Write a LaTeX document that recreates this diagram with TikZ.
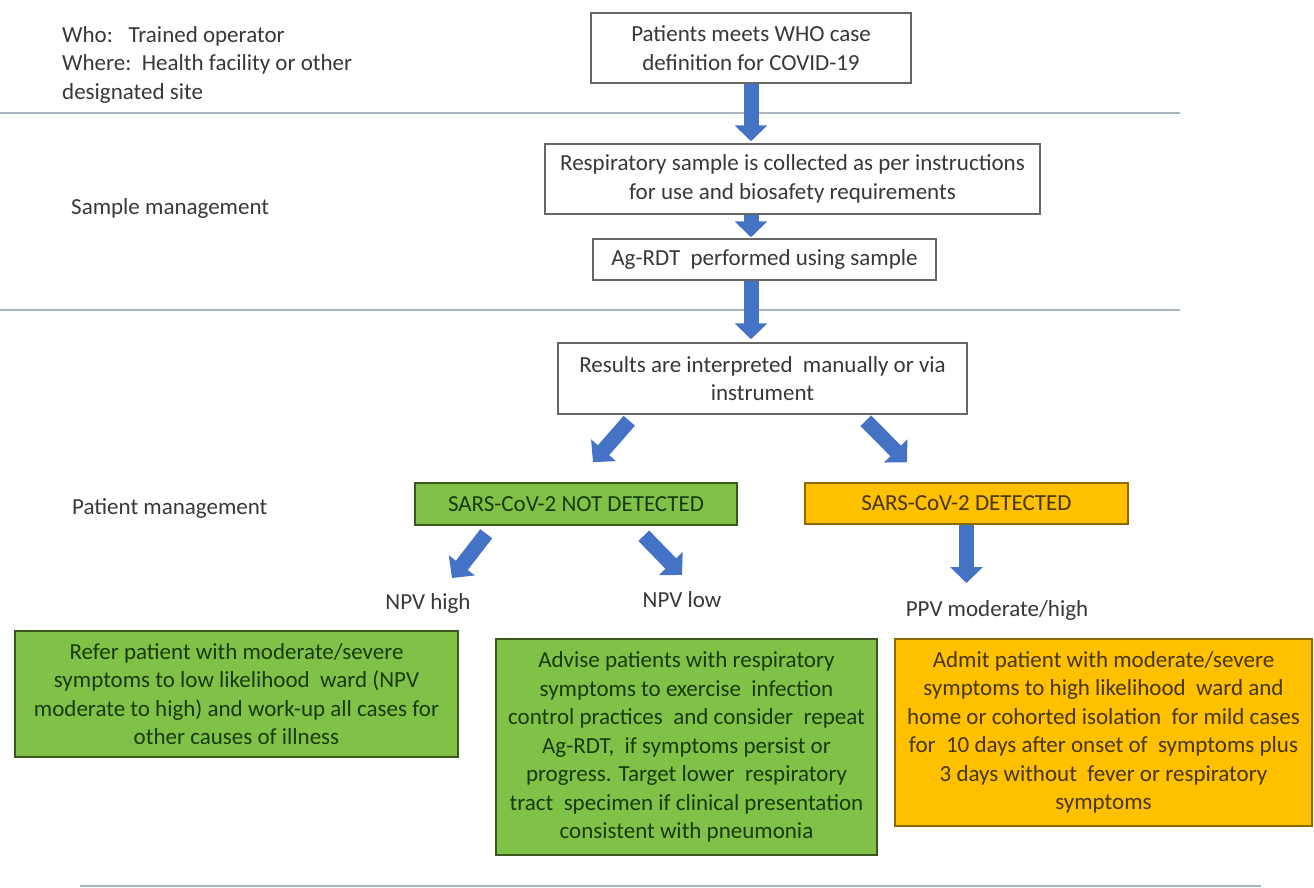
\documentclass[tikz,border=0pt]{standalone}
\usepackage{fontspec}
\setmainfont{Carlito}
\usetikzlibrary{calc, arrows.meta}

\definecolor{arrowblue}{RGB}{68,114,196}
\definecolor{boxgreen}{RGB}{128,194,72}
\definecolor{boxorange}{RGB}{255,192,0}
\definecolor{rulegray}{RGB}{170,180,192}
\definecolor{textgray}{RGB}{56,56,56}
\definecolor{greentext}{RGB}{24,58,12}
\definecolor{orangetext}{RGB}{70,54,10}

\tikzset{
    plainbox/.style={draw=black!60, line width=1.5pt, fill=white, text=textgray, align=center, inner sep=0pt},
    greenbox/.style={draw=black!55!boxgreen, line width=1.5pt, fill=boxgreen, text=greentext, align=center, inner sep=0pt},
    orangebox/.style={draw=black!45!boxorange, line width=1.5pt, fill=boxorange, text=orangetext, align=center, inner sep=0pt},
    sidetext/.style={anchor=west, align=left, text=textgray, inner sep=0pt},
    branchtext/.style={text=textgray, inner sep=0pt},
    blockarrow/.style={arrowblue, line width=15pt, -{Triangle[width=32pt,length=16pt]}},
    separator/.style={rulegray, line width=2pt}
}

\begin{document}
\begin{tikzpicture}[x=1pt, y=-1pt, font=\fontsize{23}{28.5}\selectfont]
        \useasboundingbox (0,0) rectangle (1314,887);

        % separators between the three stages
        \draw[separator] (0,113) -- (1180,113);
        \draw[separator] (0,310) -- (1180,310);
        \draw[separator] (80,886) -- (1261,886);

        % side headings
        \node (Who_Where) at (62,64.5) [sidetext] {Who:\ \ \ Trained operator\\Where:\ \ Health facility or other\\designated site};
        \node (Sample_Mgmt) at (71,208) [sidetext] {Sample management};
        \node (Patient_Mgmt) at (72,509) [sidetext] {Patient management};

        % define main column
        \coordinate (Case_Def) at (751,48);
        \coordinate (Sample) at (792.5,179);
        \coordinate (Ag_RDT) at (764.5,259.5);
        \coordinate (Results) at (762.5,378.5);

        % draw main column
        \node (Box_Case) at (Case_Def) [plainbox, minimum width=320pt, minimum height=70pt]
            {Patients meets WHO case\\definition for COVID-19};
        \node (Box_Sample) at (Sample) [plainbox, minimum width=495pt, minimum height=70pt]
            {Respiratory sample is collected as per instructions\\for use and biosafety requirements};
        \node (Box_Test) at (Ag_RDT) [plainbox, minimum width=343pt, minimum height=41pt]
            {Ag-RDT\ \ performed using sample};
        \node (Box_Results) at (Results) [plainbox, minimum width=409pt, minimum height=71pt]
            {Results are interpreted\ \ manually or via\\instrument};

        % results
        \node (Not_Detected) at (576,504) [greenbox, minimum width=322pt, minimum height=42pt]
            {SARS-CoV-2 NOT DETECTED};
        \node (Detected) at (966.5,503.5) [orangebox, minimum width=323pt, minimum height=41pt]
            {SARS-CoV-2 DETECTED};

        \node (NPV_High) at (428,603) [branchtext] {NPV high};
        \node (NPV_Low) at (682,600) [branchtext] {NPV low};
        \node (PPV_High) at (997,610) [branchtext] {PPV moderate/high};

        % actions
        \node (Act_High) at (236.5,694) [greenbox, minimum width=443pt, minimum height=126pt]
            {Refer patient with moderate/severe\\symptoms to low likelihood\ \ ward (NPV\\moderate to high) and work-up all cases for\\other causes of illness};
        \node (Act_Low) at (686.5,747) [greenbox, minimum width=381pt, minimum height=216pt]
            {Advise patients with respiratory\\symptoms to exercise\ \ infection\\control practices\ \ and consider\ \ repeat\\Ag-RDT,\ \ if symptoms persist or\\progress. Target lower\ \ respiratory\\tract\ \ specimen if clinical presentation\\consistent with pneumonia};
        \node (Act_Pos) at (1103.5,732.5) [orangebox, minimum width=417pt, minimum height=187pt]
            {Admit patient with moderate/severe\\symptoms to high likelihood\ \ ward and\\home or cohorted isolation\ \ for mild cases\\for\ \ 10 days after onset of\ \ symptoms plus\\3 days without\ \ fever or respiratory\\symptoms};

        % arrows
        \draw[blockarrow] (Box_Case.south) -- ($(Box_Case.south |- Box_Sample.north)+(0,-2)$);
        \draw[blockarrow] (Box_Case.south |- Box_Sample.south) -- ($(Box_Case.south |- Box_Test.north)+(0,-1)$);
        \draw[blockarrow] (Box_Case.south |- Box_Test.south) -- ($(Box_Case.south |- Box_Results.north)+(0,-3)$);

        \draw[blockarrow] ([shift={(72,6)}]Box_Results.south west) -- ([shift={(17,-20)}]Not_Detected.north);
        \draw[blockarrow] ([shift={(-102,6)}]Box_Results.south east) -- ([shift={(-59.5,-20)}]Detected.north);

        \draw[blockarrow] ([shift={(72,8)}]Not_Detected.south west) -- ([shift={(24,-25)}]NPV_High.center);
        \draw[blockarrow] ([shift={(-94,10)}]Not_Detected.south east) -- ([shift={(0,-25)}]NPV_Low.center);
        \draw[blockarrow] (Detected.south) -- ($(Detected.south |- PPV_High.center)+(0,-27)$);
    \end{tikzpicture}
\end{document}
